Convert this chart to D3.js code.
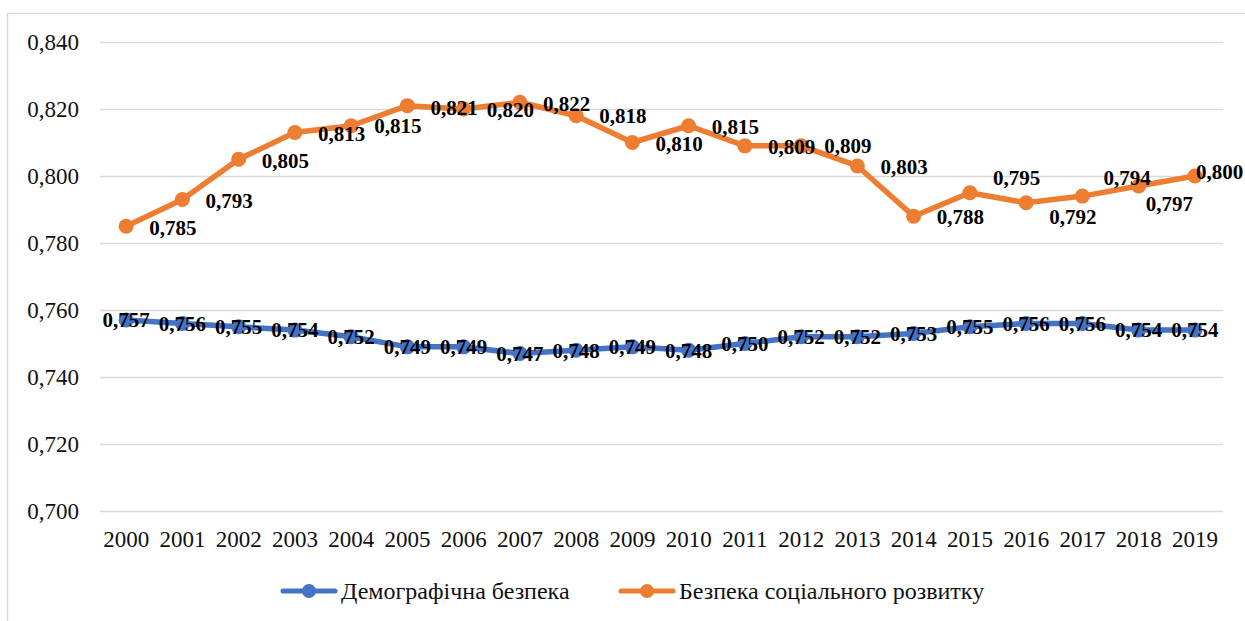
<!DOCTYPE html>
<html>
<head>
<meta charset="utf-8">
<script src="https://cdn.jsdelivr.net/npm/d3@7"></script>
<style>
  body { margin: 0; background: #fff; }
  svg text { font-family: 'Liberation Serif', 'Times New Roman', serif; }
</style>
</head>
<body>
<div id="draw_here"></div>

<script type="text/javascript">
    // Data
    years = ["2000","2001","2002","2003","2004","2005","2006","2007","2008","2009",
             "2010","2011","2012","2013","2014","2015","2016","2017","2018","2019"]
    demographic = [0.757,0.756,0.755,0.754,0.752,0.749,0.749,0.747,0.748,0.749,
                   0.748,0.750,0.752,0.752,0.753,0.755,0.756,0.756,0.754,0.754]
    social = [0.785,0.793,0.805,0.813,0.815,0.821,0.820,0.822,0.818,0.810,
              0.815,0.809,0.809,0.803,0.788,0.795,0.792,0.794,0.797,0.800]
    yTicks = [0.700,0.720,0.740,0.760,0.780,0.800,0.820,0.840]
    seriesNames = ["Демографічна безпека", "Безпека соціального розвитку"]

    canvas = ({width:1245, height:621})
    margin = ({top: 42, right: 22, bottom: 110, left: 98})

    c_blue = "#4472c4"
    c_orange = "#ed7d31"
    grid = "#d9d9d9"

    // label placement for the orange series (Excel "right", some nudged by hand)
    orangeLabelShift = [[0,1],[0,1],[0,1],[0,1],[0,0],[0,2],[0,1],[0,1],[0,0],[0,1],
                        [0,1],[0,1],[0,0],[0,1],[0,0],[0,-15],[0,14],[-2,-18],[-16,18],[-22,-4]]

    fmt = d => d3.format(".3f")(d).replace(".", ",")

    // Scales
    x = d3.scaleBand()
        .domain(years)
        .range([margin.left, canvas.width - margin.right])
    cx = d => x(d) + x.bandwidth() / 2

    y = d3.scaleLinear()
        .domain([0.700, 0.840])
        .range([canvas.height - margin.bottom, margin.top])

    var svg = d3.select("div#draw_here").append("svg")
        .attr("width", canvas.width)
        .attr("height", canvas.height)
        .attr("viewBox", [0, 0, canvas.width, canvas.height]);

    // outer chart border
    svg.append("rect")
        .attr("x", 7.5).attr("y", 13.5)
        .attr("width", canvas.width + 20).attr("height", canvas.height + 20)
        .attr("fill", "none")
        .attr("stroke", grid)
        .attr("stroke-width", 1.5)

    // Axes
    yAxis = g => g
        .attr("transform", `translate(${margin.left + 2},0)`)
        .call(d3.axisLeft(y).tickValues(yTicks).tickFormat(fmt)
            .tickSize(-(canvas.width - margin.right - margin.left - 2)).tickPadding(21))
        .call(g => g.select(".domain").remove())
        .call(g => g.selectAll("line").attr("stroke", grid).attr("stroke-width", 1.5))
        .call(g => g.selectAll("text").attr("font-size", 23).attr("fill", "#111"))

    xAxis = g => g
        .attr("transform", `translate(0,${canvas.height - margin.bottom})`)
        .call(d3.axisBottom(x).tickSize(0).tickPadding(20))
        .call(g => g.select(".domain").remove())
        .call(g => g.selectAll("text").attr("font-size", 23).attr("fill", "#111"))

    svg.append("g").call(yAxis)
    svg.append("g").call(xAxis)

    line = d3.line()
        .x((d, i) => cx(years[i]))
        .y(d => y(d))

    function drawSeries(values, color) {
        svg.append("path")
            .attr("fill", "none")
            .attr("stroke", color)
            .attr("stroke-width", 5.5)
            .attr("stroke-linejoin", "round")
            .attr("stroke-linecap", "round")
            .attr("d", line(values));

        svg.append("g").selectAll("circle")
            .data(values)
            .join("circle")
            .attr("cx", (d, i) => cx(years[i]))
            .attr("cy", d => y(d))
            .attr("r", 7.5)
            .attr("fill", color)
    }

    drawSeries(demographic, c_blue)
    drawSeries(social, c_orange)

    // Data labels: blue centred on the point
    svg.append("g").selectAll("text")
        .data(demographic)
        .join("text")
        .attr("x", (d, i) => cx(years[i]))
        .attr("y", d => y(d))
        .attr("dy", "0.35em")
        .attr("text-anchor", "middle")
        .attr("font-size", 21)
        .attr("font-weight", "bold")
        .attr("fill", "#000")
        .text(fmt)

    // orange to the right of the point
    svg.append("g").selectAll("text")
        .data(social)
        .join("text")
        .attr("x", (d, i) => cx(years[i]) + 23 + orangeLabelShift[i][0])
        .attr("y", (d, i) => y(d) + orangeLabelShift[i][1])
        .attr("dy", "0.35em")
        .attr("text-anchor", "start")
        .attr("font-size", 21)
        .attr("font-weight", "bold")
        .attr("fill", "#000")
        .text(fmt)

    // Legend
    legendItems = [
        {name: seriesNames[0], color: c_blue, x0: 283},
        {name: seriesNames[1], color: c_orange, x0: 621}
    ]
    legendY = 591

    var lg = svg.append("g").selectAll("g")
        .data(legendItems)
        .join("g")
        .attr("transform", d => `translate(${d.x0},${legendY})`)

    lg.append("line")
        .attr("x1", 0).attr("x2", 52)
        .attr("stroke", d => d.color)
        .attr("stroke-width", 5)
        .attr("stroke-linecap", "round")
    lg.append("circle")
        .attr("cx", 26).attr("r", 7)
        .attr("fill", d => d.color)
    lg.append("text")
        .attr("x", 58)
        .attr("dy", "0.35em")
        .attr("font-size", 24)
        .attr("fill", "#111")
        .text(d => d.name)
</script>
</body>
</html>
